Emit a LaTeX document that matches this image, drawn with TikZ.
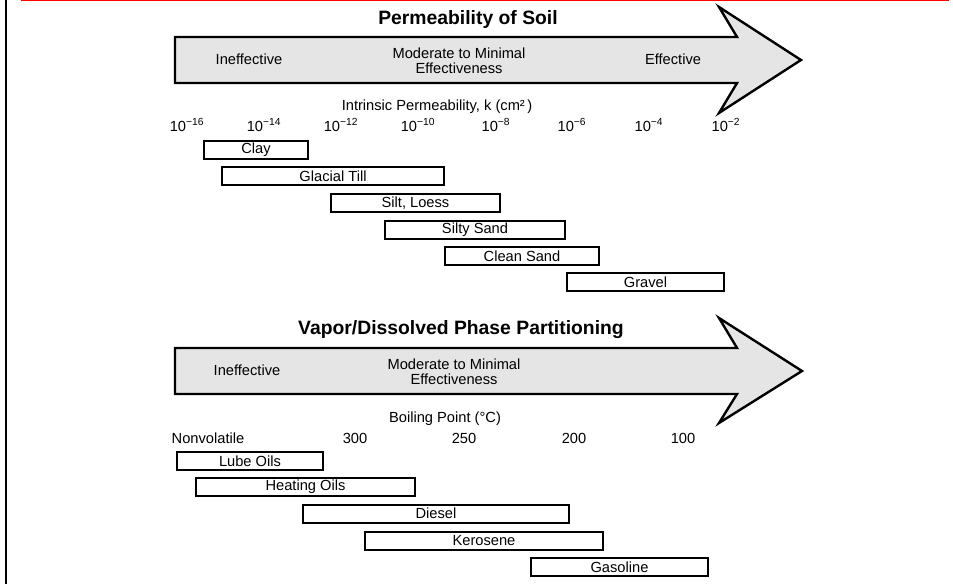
\documentclass[tikz,border=0pt]{standalone}
\usepackage{fontspec}
\setmainfont{Liberation Sans}
\tikzset{
	fatarrow/.style={draw, line width=1.8pt, fill=gray!20, line join=miter},
	band/.style={draw, line width=1.5pt, fill=white, minimum height=13.5pt, inner sep=0pt, font=\fontsize{11}{13}\selectfont},
	lbl/.style={font=\fontsize{11}{11.5}\selectfont, align=center, inner sep=0pt},
	heading/.style={font=\fontsize{14.5}{16}\selectfont\bfseries, inner sep=0pt}
}

\begin{document}
\begin{tikzpicture}[x=0.75pt, y=-0.75pt]
		\useasboundingbox (0,0) rectangle (953,584);
		\draw[red, line width=1pt] (21,0.7) -- (949,0.7);
		\draw[line width=1.7pt] (6,0) -- (6,584);
		\draw[fatarrow] (175,37) -- (737,37) -- (719,7) -- (801,60) -- (719,113) -- (737,83) -- (175,83) -- cycle;
		\node[heading] (soiltitle) at (468,20) {Permeability of Soil};
		\node[lbl] (soilineff) at (249,59) {Ineffective};
		\node[lbl] (soilmod) at (459,60.5) {Moderate to Minimal\\Effectiveness};
		\node[lbl] (soileff) at (673,59) {Effective};
		\node[lbl] (permaxis) at (437,107) {Intrinsic Permeability, k (cm²\,)};
		\node[lbl] (p16) at (187,125) {10\textsuperscript{−16}};
		\node[lbl] (p14) at (264,125) {10\textsuperscript{−14}};
		\node[lbl] (p12) at (341,125) {10\textsuperscript{−12}};
		\node[lbl] (p10) at (418,125) {10\textsuperscript{−10}};
		\node[lbl] (p8) at (496,125) {10\textsuperscript{−8}};
		\node[lbl] (p6) at (572,125) {10\textsuperscript{−6}};
		\node[lbl] (p4) at (649,125) {10\textsuperscript{−4}};
		\node[lbl] (p2) at (726,125) {10\textsuperscript{−2}};
		\node[band, minimum width=78pt] (clay) at (256,150) {Clay};
		\node[band, minimum width=166.5pt] (till) at (333,176) {Glacial Till};
		\node[band, minimum width=126.75pt] (silt) at (415.5,203) {Silt, Loess};
		\node[band, minimum width=135pt] (siltysand) at (475,230) {Silty Sand};
		\node[band, minimum width=115.5pt] (cleansand) at (522,256) {Clean Sand};
		\node[band, minimum width=117.75pt] (gravel) at (645.5,282) {Gravel};
		\draw[fatarrow] (175,348) -- (737,348) -- (719,318) -- (802,371) -- (719,423) -- (737,394) -- (175,394) -- cycle;
		\node[heading] (vaportitle) at (461,330) {Vapor/Dissolved Phase Partitioning};
		\node[lbl] (vapineff) at (247,370) {Ineffective};
		\node[lbl] (vapmod) at (454,372) {Moderate to Minimal\\Effectiveness};
		\node[lbl] (boilaxis) at (445,419) {Boiling Point (°C)};
		\node[lbl] (nonvol) at (208,438) {Nonvolatile};
		\node[lbl] (b300) at (355,438) {300};
		\node[lbl] (b250) at (464,438) {250};
		\node[lbl] (b200) at (574,438) {200};
		\node[lbl] (b100) at (683,438) {100};
		\node[band, minimum width=109.5pt] (lube) at (250,461) {Lube Oils};
		\node[band, minimum width=164.25pt] (heating) at (305.5,487) {Heating Oils};
		\node[band, minimum width=199.5pt] (diesel) at (436,513.5) {Diesel};
		\node[band, minimum width=178.5pt] (kerosene) at (484,541) {Kerosene};
		\node[band, minimum width=132.75pt] (gasoline) at (619.5,567) {Gasoline};
	\end{tikzpicture}
\end{document}
